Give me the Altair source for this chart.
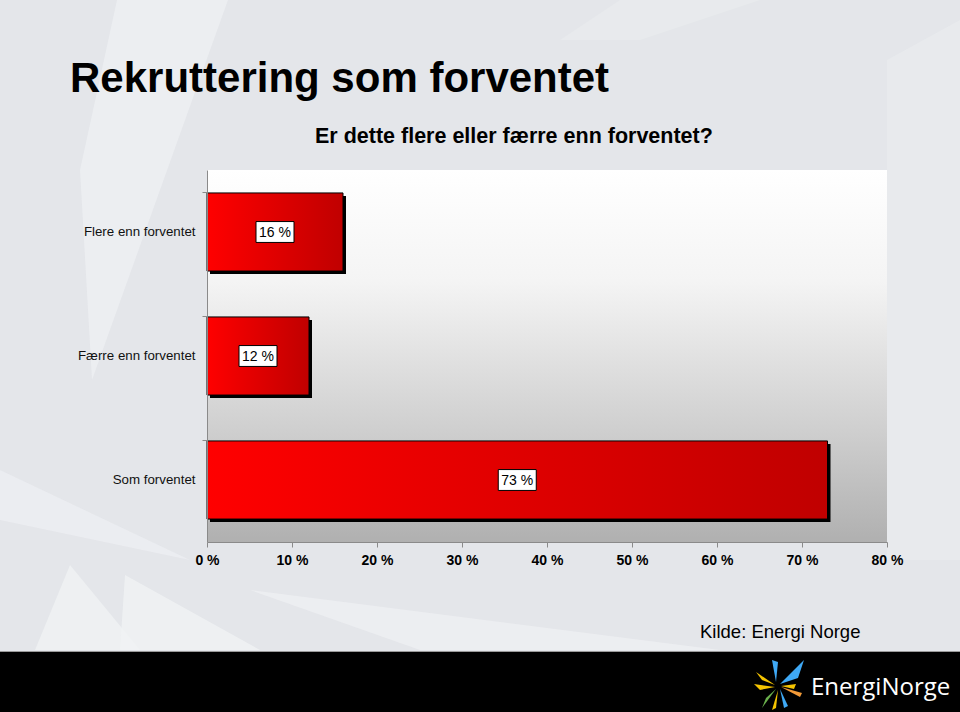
import altair as alt
import pandas as pd

# ---- data ----
categories = ["Flere enn forventet", "Færre enn forventet", "Som forventet"]
values = [16, 12, 73]
tick_values = [0, 10, 20, 30, 40, 50, 60, 70, 80]

title_text = "Rekruttering som forventet"
subtitle_text = "Er dette flere eller færre enn forventet?"
source_text = "Kilde: Energi Norge"
logo_text = "EnergiNorge"

df = pd.DataFrame({"category": categories, "value": values})
df["label"] = df["value"].astype(str) + " %"
df["mid"] = df["value"] / 2

FONT = "Liberation Sans"
W, H = 680, 372
PAD_L, PAD_T = 207, 170
one = alt.Data(values=[{"a": 1}])

x_enc = alt.X("value:Q", scale=alt.Scale(domain=[0, 80]),
              axis=alt.Axis(values=tick_values, labelExpr="datum.value + ' %'",
                            labelFont=FONT, labelFontSize=14, labelFontWeight="bold",
                            labelColor="#000", labelFlush=False, labelPadding=6,
                            tickSize=5, tickColor="#8a8a8a", domainColor="#8a8a8a",
                            grid=False, title=None, zindex=1))
y_enc = alt.Y("category:N", sort=categories,
              scale=alt.Scale(paddingInner=0.37, paddingOuter=0.185),
              axis=alt.Axis(title=None, bandPosition=0, tickSize=5, labelPadding=7,
                            labelFont=FONT, labelFontSize=13.3, labelColor="#111",
                            tickColor="#8a8a8a", domainColor="#8a8a8a", zindex=1))


def poly(path, px, py, color, opacity=1.0):
    # size=4 -> custom path scaled by 1 (pixel units relative to px, py)
    return alt.Chart(one).mark_point(shape=path, size=4, filled=True, color=color,
                                     opacity=opacity, strokeWidth=0).encode(
        x=alt.value(px - PAD_L), y=alt.value(py - PAD_T))


# background light streaks (absolute pixel coordinates relative to canvas)
streaks = [
    poly("M117,0 L228,0 L92,380 L80,170 Z", 0, 0, "#eef0f3", 0.8),
    poly("M0,470 L190,560 L0,520 Z", 0, 0, "#eef0f3", 0.7),
    poly("M35,650 L140,650 L70,565 Z", 0, 0, "#f0f2f4", 0.8),
    poly("M120,650 L260,650 L125,575 Z", 0, 0, "#f0f2f4", 0.8),
    poly("M250,590 L720,650 L420,650 Z", 0, 0, "#eff1f3", 0.7),
    poly("M560,40 L620,0 L760,0 L640,40 Z", 0, 0, "#e9ebee", 0.8),
    poly("M887,60 L960,20 L960,560 L887,560 Z", 0, 0, "#e9ebee", 0.8),
]

plot_bg = alt.Chart(one).mark_rect(
    color=alt.Gradient(gradient="linear", x1=0, x2=0, y1=0, y2=1,
                       stops=[alt.GradientStop(offset=0, color="#ffffff"),
                              alt.GradientStop(offset=0.3, color="#f4f4f4"),
                              alt.GradientStop(offset=0.7, color="#cfcfcf"),
                              alt.GradientStop(offset=1, color="#b0b0b0")])
).encode(x=alt.value(0), x2=alt.value(W), y=alt.value(0), y2=alt.value(H))

base = alt.Chart(df)
shadow = base.mark_bar(color="#000", xOffset=3, yOffset=3).encode(x=x_enc, y=y_enc)
bars = base.mark_bar(
    color=alt.Gradient(gradient="linear", x1=0, x2=1, y1=0, y2=0,
                       stops=[alt.GradientStop(offset=0, color="#ff0000"),
                              alt.GradientStop(offset=1, color="#c00000")]),
    stroke="#000", strokeWidth=1
).encode(x=x_enc, y=y_enc)

label_box = base.mark_point(shape="M-1,-0.55 L1,-0.55 L1,0.55 L-1,0.55 Z", size=1444,
                            filled=True, fill="#ffffff", stroke="#000", strokeWidth=1,
                            opacity=1).encode(x="mid:Q", y=alt.Y("category:N", sort=categories))
label_txt = base.mark_text(font=FONT, fontSize=14, color="#000", baseline="middle",
                           dy=0.5).encode(x="mid:Q", y=alt.Y("category:N", sort=categories),
                                          text="label:N")

title = alt.Chart(one).mark_text(text=title_text, font=FONT, fontSize=42, fontWeight="bold",
                                 align="left", baseline="alphabetic", color="#000").encode(
    x=alt.value(70 - PAD_L), y=alt.value(92 - PAD_T))
subtitle = alt.Chart(one).mark_text(text=subtitle_text, font=FONT, fontSize=21.5,
                                    fontWeight="bold", align="left", baseline="alphabetic",
                                    color="#000").encode(
    x=alt.value(315 - PAD_L), y=alt.value(143 - PAD_T))
source = alt.Chart(one).mark_text(text=source_text, font=FONT, fontSize=18.5, align="left",
                                  baseline="alphabetic", color="#000").encode(
    x=alt.value(700 - PAD_L), y=alt.value(638 - PAD_T))

footer = alt.Chart(one).mark_rect(color="#000").encode(
    x=alt.value(-PAD_L), x2=alt.value(960 - PAD_L),
    y=alt.value(652 - PAD_T), y2=alt.value(712 - PAD_T))
footer_line = alt.Chart(one).mark_rule(color="#9a9a9a", strokeWidth=1).encode(
    x=alt.value(-PAD_L), x2=alt.value(960 - PAD_L), y=alt.value(651.5 - PAD_T))
logo_word = alt.Chart(one).mark_text(text=logo_text, font="Open Sans", fontSize=24,
                                     align="left", baseline="alphabetic",
                                     color="#ffffff").encode(
    x=alt.value(811 - PAD_L), y=alt.value(695 - PAD_T))

cx, cy = 778, 686
logo_parts = [
    poly("M2,-2 L26,-26 L20,-8 Z", cx, cy, "#3fa9f5"),
    poly("M-2,-4 L-6,-26 L0,-24 Z", cx, cy, "#3fa9f5"),
    poly("M-3,-1 L-22,-14 L-16,-6 Z", cx, cy, "#f5c400"),
    poly("M-3,1 L-24,-2 L-18,4 Z", cx, cy, "#f5c400"),
    poly("M-2,3 L-16,22 L-12,12 Z", cx, cy, "#6ab04c"),
    poly("M0,4 L-6,24 L-2,22 Z", cx, cy, "#f5c400"),
    poly("M2,3 L6,22 L10,20 Z", cx, cy, "#3fa9f5"),
    poly("M3,1 L22,11 L24,7 Z", cx, cy, "#f29a38"),
    poly("M3,0 L18,-2 L16,3 Z", cx, cy, "#f5c400"),
]

chart = alt.layer(
    *streaks, plot_bg, shadow, bars, label_box, label_txt,
    title, subtitle, source, footer, footer_line, logo_word, *logo_parts
).properties(
    width=W, height=H, autosize="none",
    padding={"left": PAD_L, "top": PAD_T, "right": 960 - PAD_L - W, "bottom": 712 - PAD_T - H},
    background="#e4e6ea"
).configure_view(stroke=None)

chart.save("out.html", embed_options={"renderer": "svg", "actions": False})
